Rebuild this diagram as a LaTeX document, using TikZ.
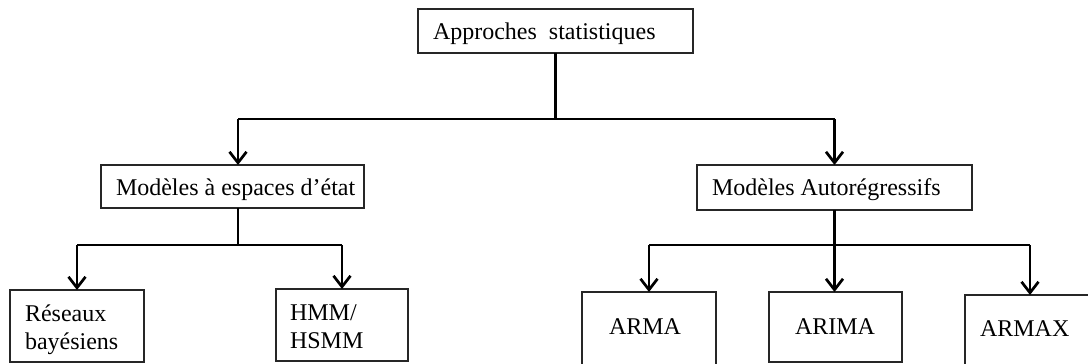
\documentclass[tikz,border=0pt]{standalone}
\usepackage{fontspec}
\setmainfont{Liberation Serif}
\usetikzlibrary{arrows.meta}
\tikzset{
  box/.style={draw=black!85, line width=1.3bp, anchor=north west, inner sep=0pt, outer sep=0pt},
  txt/.style={anchor=base west, inner sep=0pt, outer sep=0pt, font=\fontsize{24bp}{28bp}\selectfont},
  conn/.style={line width=2.9bp, black},
  arr/.style={conn, -{Straight Barb[length=11bp,width=17bp,line width=2.7bp]}}
}
\begin{document}
\begin{tikzpicture}[x=1bp,y=-1bp]
\useasboundingbox (0,0) rectangle (1088,363);
% boxes
\node[box, minimum width=275bp, minimum height=44bp] (top) at (418,9) {};
\node[box, minimum width=263bp, minimum height=43bp] (msl) at (101,165) {};
\node[box, minimum width=275bp, minimum height=45bp] (msr) at (697,165) {};
\node[box, minimum width=134bp, minimum height=72bp] (res) at (10,290) {};
\node[box, minimum width=132bp, minimum height=72bp] (hmm) at (276,289) {};
\node[box, minimum width=134bp, minimum height=80bp] (arma) at (582,292) {};
\node[box, minimum width=133bp, minimum height=70bp] (arima) at (769,292) {};
\node[box, minimum width=140bp, minimum height=80bp] (armax) at (965,295) {};
% texts
\node[txt] (ttop) at (433,39) {Approches\ \ statistiques};
\node[txt] (tmsl) at (116,195) {Modèles à espaces d’état};
\node[txt] (tmsr) at (712,195) {Modèles Autorégressifs};
\node[txt] (tres1) at (25,321) {Réseaux};
\node[txt] (tres2) at (25,349) {bayésiens};
\node[txt] (thmm1) at (290,320) {HMM/};
\node[txt] (thmm2) at (290,348) {HSMM};
\node[txt] (tarma) at (609,334) {ARMA};
\node[txt] (tarima) at (795,334) {ARIMA};
\node[txt] (tarmax) at (980,336) {ARMAX};
% junctions
\coordinate (j0) at (555.5,119);
\coordinate (jL) at (238,119);
\coordinate (jR) at (834.5,119);
\coordinate (k1) at (238,245);
\coordinate (kL) at (77,245);
\coordinate (kR) at (342,245);
\coordinate (m1) at (834.5,245);
\coordinate (mL) at (649,245);
\coordinate (mR) at (1030,245);
% connectors
\draw[conn] (top.south) -- (j0);
\draw[conn] (jL) -- (jR);
\draw[arr] (jL) -- (jL |- msl.north);
\draw[arr] (jR) -- (jR |- msr.north);
\draw[conn] (k1 |- msl.south) -- (k1);
\draw[conn] (kL) -- (kR);
\draw[arr] (kL) -- (kL |- res.north);
\draw[arr] (kR) -- (kR |- hmm.north);
\draw[conn] (m1 |- msr.south) -- (m1);
\draw[conn] (mL) -- (mR);
\draw[arr] (mL) -- (mL |- arma.north);
\draw[arr] (m1) -- (m1 |- arima.north);
\draw[arr] (mR) -- (mR |- armax.north);
\end{tikzpicture}
\end{document}
